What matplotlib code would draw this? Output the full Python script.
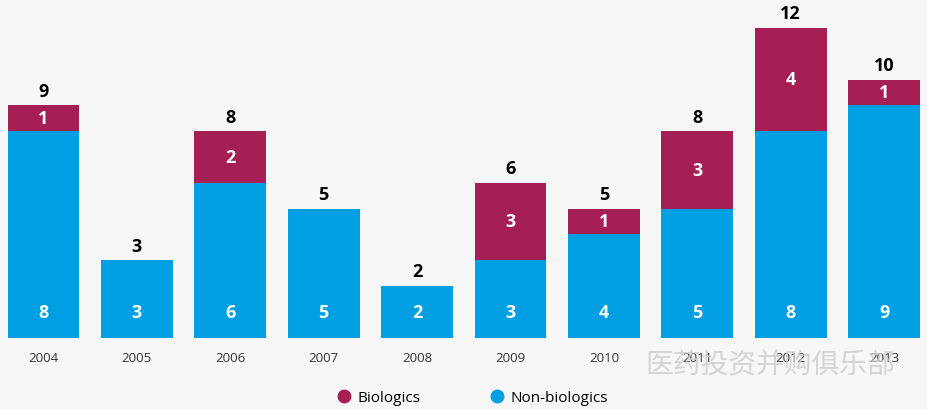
import matplotlib.pyplot as plt
from matplotlib.lines import Line2D

years = ['2004', '2005', '2006', '2007', '2008', '2009', '2010', '2011', '2012', '2013']
non_biologics = [8, 3, 6, 5, 2, 3, 4, 5, 8, 9]
biologics = [1, 0, 2, 0, 0, 3, 1, 3, 4, 1]
totals = [n + b for n, b in zip(non_biologics, biologics)]

BLUE = '#009fe3'
MAGENTA = '#a51f55'
BG = '#f7f7f7'

plt.rcParams['font.family'] = ['Open Sans', 'Noto Sans CJK SC', 'DejaVu Sans']

fig = plt.figure(figsize=(9.27, 4.10), dpi=100, facecolor=BG)
ax = fig.add_axes([0, 71.5 / 410, 1, 338.5 / 410])
ax.set_facecolor(BG)

x = list(range(len(years)))
ax.bar(x, non_biologics, width=0.77, color=BLUE)
ax.bar(x, biologics, width=0.77, bottom=non_biologics, color=MAGENTA)

for i in x:
    # non-biologics count near bottom of bar
    ax.text(i, 1.0, str(non_biologics[i]), ha='center', va='center',
            color='white', fontsize=13, fontweight='bold')
    if biologics[i] > 0:
        ax.text(i, non_biologics[i] + biologics[i] / 2, str(biologics[i]),
                ha='center', va='center', color='white', fontsize=13, fontweight='bold')
    ax.annotate(str(totals[i]), (i, totals[i]), xytext=(0, 4), textcoords='offset points',
                ha='center', va='bottom', color='black', fontsize=13, fontweight='bold')
    ax.text(i, -0.76, years[i], ha='center', va='center', color='#333333', fontsize=9.5)

ax.set_xlim(-0.466, 9.459)
ax.set_ylim(0, 338.5 / 25.8)
ax.axis('off')

# legend
handles = [Line2D([], [], marker='o', linestyle='', color=MAGENTA, markersize=9),
           Line2D([], [], marker='o', linestyle='', color=BLUE, markersize=9)]
fig.legend(handles, ['Biologics', 'Non-biologics'], loc='center',
           bbox_to_anchor=(472 / 927, 11 / 410), ncol=2, frameon=False,
           fontsize=11, handletextpad=0.4, columnspacing=4.5, handlelength=1)

# watermark
fig.text(770 / 927, 45 / 410, '医药投资并购俱乐部', ha='center', va='center',
         fontsize=20, color='#cccccc', alpha=0.8, family=['Noto Sans CJK SC', 'DejaVu Sans'])

fig.savefig('out.png', dpi=100, facecolor=BG)
